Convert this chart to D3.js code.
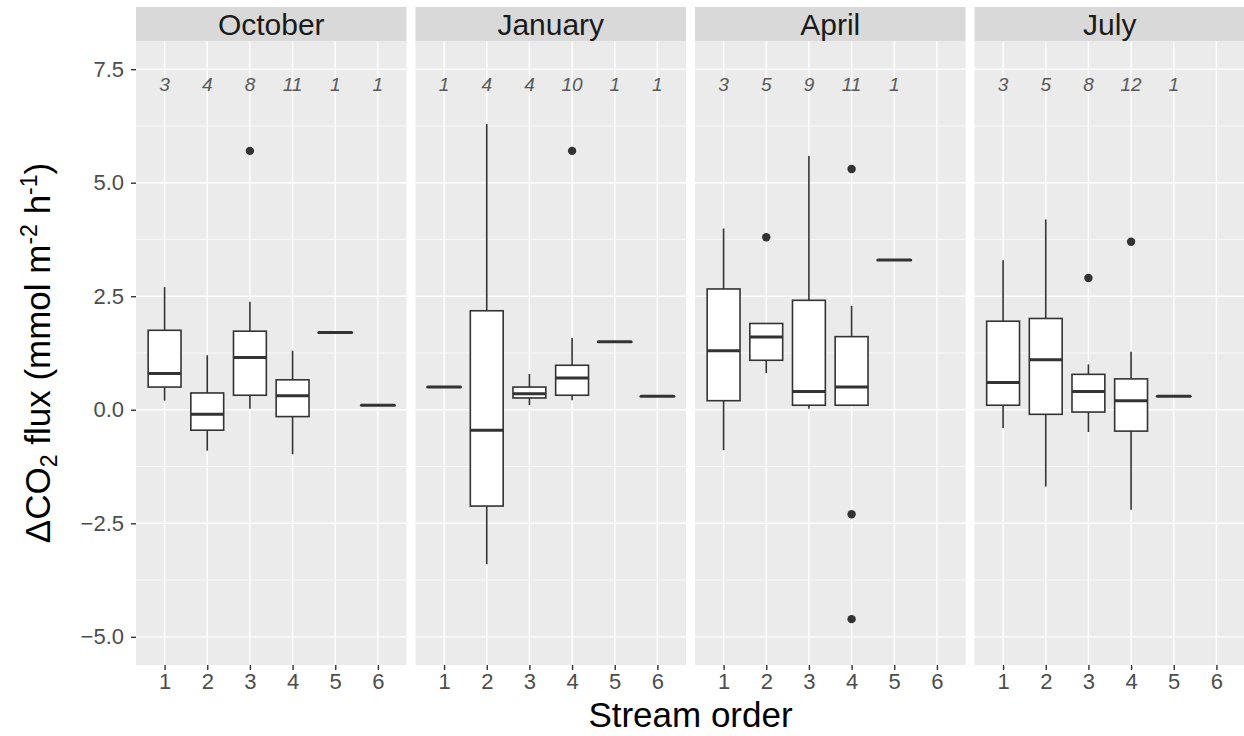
<!DOCTYPE html>
<html lang="en">
<head>
<meta charset="UTF-8">
<title>CO2 flux by stream order</title>
<script src="https://cdn.jsdelivr.net/npm/d3@7"></script>
<style>
  body { margin: 0; background: #fff; }
  svg { font-family: "Liberation Sans", Arial, sans-serif; }
</style>
</head>
<body>
<script>
// panel (month) names and stream orders
var months = ["October", "January", "April", "July"];
var orders = [1, 2, 3, 4, 5, 6];
var yTicks = [-5, -2.5, 0, 2.5, 5, 7.5];

// sample sizes printed above each box
var octoberN = [3, 4, 8, 11, 1, 1];
var januaryN = [1, 4, 4, 10, 1, 1];
var aprilN = [3, 5, 9, 11, 1];
var julyN = [3, 5, 8, 12, 1];

// box stats: [lower whisker, q1, median, q3, upper whisker], one per stream order
var octoberBoxes = [
    [0.2, 0.5, 0.8, 1.75, 2.7],
    [-0.9, -0.45, -0.1, 0.37, 1.2],
    [0.02, 0.32, 1.15, 1.73, 2.38],
    [-0.98, -0.15, 0.31, 0.66, 1.3],
    [1.7, 1.7, 1.7, 1.7, 1.7],
    [0.1, 0.1, 0.1, 0.1, 0.1]
];
var januaryBoxes = [
    [0.5, 0.5, 0.5, 0.5, 0.5],
    [-3.4, -2.12, -0.45, 2.18, 6.29],
    [0.1, 0.26, 0.35, 0.5, 0.79],
    [0.21, 0.32, 0.7, 0.98, 1.58],
    [1.5, 1.5, 1.5, 1.5, 1.5],
    [0.3, 0.3, 0.3, 0.3, 0.3]
];
var aprilBoxes = [
    [-0.89, 0.2, 1.3, 2.66, 3.99],
    [0.81, 1.09, 1.6, 1.9, 1.9],
    [0.02, 0.1, 0.4, 2.41, 5.59],
    [0.1, 0.1, 0.5, 1.61, 2.29],
    [3.3, 3.3, 3.3, 3.3, 3.3]
];
var julyBoxes = [
    [-0.4, 0.1, 0.6, 1.95, 3.29],
    [-1.69, -0.1, 1.1, 2.01, 4.19],
    [-0.49, -0.05, 0.4, 0.78, 1.0],
    [-2.2, -0.47, 0.2, 0.68, 1.28],
    [0.3, 0.3, 0.3, 0.3, 0.3]
];

// outliers: [stream order, value]
var octoberOut = [[3, 5.7]];
var januaryOut = [[4, 5.7]];
var aprilOut = [[2, 3.8], [4, 5.3], [4, -2.3], [4, -4.61]];
var julyOut = [[3, 2.9], [4, 3.7]];

var panels = [
    {name: months[0], n: octoberN, boxes: octoberBoxes, out: octoberOut},
    {name: months[1], n: januaryN, boxes: januaryBoxes, out: januaryOut},
    {name: months[2], n: aprilN, boxes: aprilBoxes, out: aprilOut},
    {name: months[3], n: julyN, boxes: julyBoxes, out: julyOut}
];

var width = 1244, height = 736;
var panelLeft = 136, panelStep = 279.5, panelW = 270.5;
var stripTop = 7, panelTop = 41, panelBottom = 665;
var ink = "#333333";

var svg = d3.select("body").append("svg")
    .attr("width", width)
    .attr("height", height);

var x = d3.scaleLinear().domain([0.33, 6.67]).range([0, panelW]);
var y = d3.scaleLinear().domain([-5.62, 8.12]).range([panelBottom, panelTop]);
var boxHalf = (x(1.385) - x(1)); // box width 0.77

var minorTicks = [];
for (var i = 0; i < yTicks.length - 1; i++) minorTicks.push((yTicks[i] + yTicks[i + 1]) / 2);
minorTicks.push(yTicks[yTicks.length - 1] + 1.25);

panels.forEach(function(p, pi) {
    var g = svg.append("g").attr("transform", "translate(" + (panelLeft + pi * panelStep) + ",0)");

    // strip
    g.append("rect")
        .attr("x", 0).attr("y", stripTop)
        .attr("width", panelW).attr("height", panelTop - stripTop)
        .attr("fill", "#D9D9D9");
    g.append("text")
        .attr("x", panelW / 2).attr("y", (stripTop + panelTop) / 2)
        .attr("dy", "0.36em")
        .attr("text-anchor", "middle")
        .attr("font-size", "30px")
        .attr("fill", "#1A1A1A")
        .text(p.name);

    // panel background
    g.append("rect")
        .attr("x", 0).attr("y", panelTop)
        .attr("width", panelW).attr("height", panelBottom - panelTop)
        .attr("fill", "#EBEBEB");

    // grid
    g.selectAll(".minor").data(minorTicks.filter(function(d) { return y(d) > panelTop; }))
        .enter().append("line")
        .attr("x1", 0).attr("x2", panelW)
        .attr("y1", function(d) { return y(d); }).attr("y2", function(d) { return y(d); })
        .attr("stroke", "#fff").attr("stroke-width", 0.7);
    g.selectAll(".major").data(yTicks)
        .enter().append("line")
        .attr("x1", 0).attr("x2", panelW)
        .attr("y1", function(d) { return y(d); }).attr("y2", function(d) { return y(d); })
        .attr("stroke", "#fff").attr("stroke-width", 1.4);
    g.selectAll(".vgrid").data(orders)
        .enter().append("line")
        .attr("x1", function(d) { return x(d); }).attr("x2", function(d) { return x(d); })
        .attr("y1", panelTop).attr("y2", panelBottom)
        .attr("stroke", "#fff").attr("stroke-width", 1.4);

    // boxes
    p.boxes.forEach(function(b, bi) {
        var cx = x(orders[bi]);
        if (b[0] === b[4]) {
            g.append("line")
                .attr("x1", cx - boxHalf).attr("x2", cx + boxHalf)
                .attr("y1", y(b[2])).attr("y2", y(b[2]))
                .attr("stroke", ink).attr("stroke-width", 3).attr("stroke-linecap", "round");
            return;
        }
        g.append("line")
            .attr("x1", cx).attr("x2", cx)
            .attr("y1", y(b[4])).attr("y2", y(b[3]))
            .attr("stroke", ink).attr("stroke-width", 1.6);
        g.append("line")
            .attr("x1", cx).attr("x2", cx)
            .attr("y1", y(b[1])).attr("y2", y(b[0]))
            .attr("stroke", ink).attr("stroke-width", 1.6);
        g.append("rect")
            .attr("x", cx - boxHalf).attr("y", y(b[3]))
            .attr("width", boxHalf * 2).attr("height", y(b[1]) - y(b[3]))
            .attr("fill", "#fff").attr("stroke", ink).attr("stroke-width", 1.6);
        g.append("line")
            .attr("x1", cx - boxHalf).attr("x2", cx + boxHalf)
            .attr("y1", y(b[2])).attr("y2", y(b[2]))
            .attr("stroke", ink).attr("stroke-width", 3);
    });

    // outliers
    g.selectAll(".out").data(p.out)
        .enter().append("circle")
        .attr("cx", function(d) { return x(d[0]); })
        .attr("cy", function(d) { return y(d[1]); })
        .attr("r", 4.2)
        .attr("fill", ink);

    // sample sizes
    g.selectAll(".n").data(p.n)
        .enter().append("text")
        .attr("x", function(d, i) { return x(orders[i]); })
        .attr("y", y(7.18))
        .attr("dy", "0.36em")
        .attr("text-anchor", "middle")
        .attr("font-size", "19px")
        .attr("font-style", "italic")
        .attr("fill", "#595959")
        .text(function(d) { return d; });

    // x axis
    var xAxis = g.append("g")
        .attr("transform", "translate(0," + panelBottom + ")")
        .call(d3.axisBottom(x).tickValues(orders).tickFormat(d3.format("d")).tickSize(5).tickPadding(3));
    xAxis.select(".domain").remove();
    xAxis.selectAll("line").attr("stroke", ink).attr("stroke-width", 1.4);
    xAxis.selectAll("text").attr("font-size", "22px").attr("fill", "#4D4D4D").attr("font-family", null);
});

// y axis
var yAxis = svg.append("g")
    .attr("transform", "translate(" + panelLeft + ",0)")
    .call(d3.axisLeft(y).tickValues(yTicks).tickFormat(d3.format(".1f")).tickSize(5).tickPadding(7));
yAxis.select(".domain").remove();
yAxis.selectAll("line").attr("stroke", ink).attr("stroke-width", 1.4);
yAxis.selectAll("text").attr("font-size", "22px").attr("fill", "#4D4D4D").attr("font-family", null);

// axis titles
svg.append("text")
    .attr("x", panelLeft + (panelStep * 3 + panelW) / 2)
    .attr("y", 727)
    .attr("text-anchor", "middle")
    .attr("font-size", "35px")
    .attr("fill", "#000")
    .text("Stream order");

var yt = svg.append("text")
    .attr("transform", "translate(50," + ((panelTop + panelBottom) / 2) + ") rotate(-90)")
    .attr("text-anchor", "middle")
    .attr("font-size", "35px")
    .attr("fill", "#000");
yt.append("tspan").text("\u0394CO");
yt.append("tspan").attr("font-size", "23px").attr("dy", "7").text("2");
yt.append("tspan").attr("dy", "-7").text(" flux (mmol m");
yt.append("tspan").attr("font-size", "23px").attr("dy", "-13").text("-2");
yt.append("tspan").attr("dy", "13").text(" h");
yt.append("tspan").attr("font-size", "23px").attr("dy", "-13").text("-1");
yt.append("tspan").attr("dy", "13").text(")");
</script>
</body>
</html>
